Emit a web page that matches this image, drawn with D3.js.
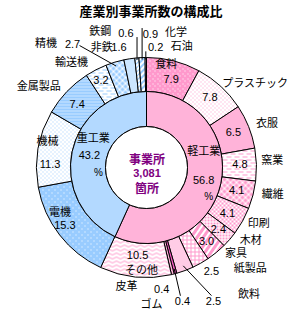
<!DOCTYPE html>
<html><head><meta charset="utf-8">
<script src="https://cdn.jsdelivr.net/npm/d3@7"></script>
<style>
body { margin: 0; background: #fff; }
text { font-family: "Noto Sans CJK JP", "Noto Sans", sans-serif; }
text.num { font-family: "Liberation Sans Narrow", "Liberation Sans", sans-serif; }
</style>
</head><body>
<svg id="chart" width="301" height="318"></svg>
<script>
// outer ring, clockwise from 12 o'clock (%)
var categories = ["食料","プラスチック","衣服","窯業","繊維","印刷","木材","家具","紙製品","飲料","ゴム","皮革","その他",
                  "電機","機械","金属製品","輸送機","精機","非鉄","鉄鋼","化学","石油"];
var shares = [7.9,7.8,6.5,4.8,4.1,4.1,2.4,3.0,2.5,2.5,0.4,0.4,10.5,
              15.3,11.3,7.4,3.2,2.7,1.6,0.6,0.9,0.2];
// inner ring
var groups = ["軽工業","重工業"];
var groupShares = [56.8, 43.2];
var centerLines = ["事業所","3,081","箇所"];
var title = "産業別事業所数の構成比";

var pink = "#ff99cc", blue = "#99ccff";

// label placement: [name radius, name angle nudge, value radius, value angle nudge] (deg)
var labelLayout = {
    "食料": [106, -3.4, 92, 1.3],
    "プラスチック": [137.5, 9.7, 95, -0.6],
    "衣服": [128.5, 1.6, 94, -0.6],
    "窯業": [126, -1.9, 93.5, -0.9],
    "繊維": [129, -2.6, 93, -0.5],
    "印刷": [125, -3.1, 93, 0.4],
    "木材": [127, -6.1, 94.5, -0.4],
    "家具": [124, -6.9, 95, 0.2],
    "紙製品": [144, -16.6, 122.5, -2.5],
    "飲料": [163, -18.5, 149, -6.2],
    "ゴム": [136.5, 13.2, 138, 0.2],
    "皮革": [120, 23.4, 122, 6.7],
    "その他": [102, -3, 87.5, 0.1],
    "電機": [97, 11, 100, 2.5],
    "機械": [102.5, 5, 96.5, -8.2],
    "金属製品": [135, -6.6, 94, -1.2],
    "輸送機": [129.5, -8.1, 98.5, -0.2],
    "精機": [160, -22.2, 143.5, -14.3],
    "非鉄": [128.3, -11.4, 123.5, -3.9],
    "鉄鋼": [144.6, -13.6, 136, -3.7],
    "化学": [138.5, 14.6, 133.5, 4.0],
    "石油": [126.5, 16.5, 120.5, 4.7]
};
// leader lines: "up" = vertical to label, "to" = towards value label
var leaders = { "精機": "to", "鉄鋼": "up", "化学": "up", "石油": "up", "飲料": "to", "ゴム": "to" };

var svg = d3.select("#chart");
var cx = 146.5, cy = 167.5;
var rHole = 41, rMid = 76, rOuter = 110;

// ---- fill patterns ----
var defs = svg.append("defs");
function pattern(id, w, h, bg, draw, rot) {
    var p = defs.append("pattern").attr("id", id)
        .attr("patternUnits", "userSpaceOnUse")
        .attr("width", w).attr("height", h);
    if (rot) p.attr("patternTransform", "rotate(" + rot + ")");
    p.append("rect").attr("width", w).attr("height", h).attr("fill", bg);
    draw(p);
}
function px(color, pts) {
    return function(p) {
        pts.forEach(function(d) {
            p.append("rect").attr("x", d[0]).attr("y", d[1])
                .attr("width", d[2] || 1).attr("height", d[3] || 1).attr("fill", color);
        });
    };
}
function diamonds(color) {
    return function(p) {
        p.append("path").attr("fill", color)
            .attr("d", "M3,0.7L5.3,3L3,5.3L0.7,3Z M0,-2.3L2.3,0L0,2.3L-2.3,0Z M6,-2.3L8.3,0L6,2.3L3.7,0Z M0,3.7L2.3,6L0,8.3L-2.3,6Z M6,3.7L8.3,6L6,8.3L3.7,6Z");
    };
}
function lines(color, d) {
    return function(p) {
        p.append("path").attr("d", d).attr("stroke", color).attr("stroke-width", 1).attr("fill", "none");
    };
}

var outerPatterns = [
    [5, 5, pink, px("#fff", [[1,1],[3,3]])],                        // 食料
    [4, 4, "#fff", px(pink, [[0,0],[2,2]])],                        // プラスチック
    [2, 2, pink, px("#fff", [[0,0]])],                              // 衣服
    [8, 6, "#fff", px(pink, [[0,1,5,1],[4,4,5,1],[-4,4,5,1]])],     // 窯業
    [6, 6, "#fff", diamonds(pink)],                                 // 繊維
    [4, 4, "#fff", lines(pink, "M-1,1L1,-1M0,4L4,0M3,5L5,3M-1,3L1,5M0,0L4,4M3,-1L5,1")], // 印刷
    [3, 3, pink, px("#fff", [[0,0,3,1],[0,0,1,3]])],                // 木材
    [5, 5, "#fff", px(pink, [[0,0,3,5]]), 35],                      // 家具
    [4, 4, "#fff", px(pink, [[0,0,4,1],[0,0,1,4]])],                // 紙製品
    [2, 2, "#fff", px(pink, [[0,0],[1,1]])],                        // 飲料
    [2, 2, "#ff66cc", px("#cc3399", [[0,0]])],                      // ゴム
    [2, 2, pink, px("#fff", [[0,0]])],                              // 皮革
    [8, 4, "#fff", lines(pink, "M0,2.5Q2,0.5 4,2.5T8,2.5")],        // その他
    [6, 6, blue, px("#fff", [[1,1],[4,4]])],                        // 電機
    [4, 4, "#fff", px(blue, [[0,0],[2,2]])],                        // 機械
    [2, 3, blue, px("#fff", [[0,0]])],                              // 金属製品
    [8, 6, "#fff", px(blue, [[0,1,5,1],[4,4,5,1],[-4,4,5,1]])],     // 輸送機
    [6, 6, "#fff", diamonds(blue)],                                 // 精機
    [2, 2, "#fff", px(blue, [[0,0],[1,1]])],                        // 非鉄
    [3, 3, "#fff", px(blue, [[0,0,1,3]]), 45],                      // 鉄鋼
    [4, 4, "#fff", px(blue, [[0,0,2,4]]), 45],                      // 化学
    [2, 2, "#fff", px(blue, [[0,0]])]                               // 石油
];
outerPatterns.forEach(function(p, i) { pattern("po" + i, p[0], p[1], p[2], p[3], p[4]); });
pattern("pi0", 2, 2, pink, px("#fff", [[0,0]]));
pattern("pi1", 2, 2, blue, px("#fff", [[0,0]]));

// ---- title ----
svg.append("text")
    .attr("x", 151).attr("y", 16)
    .attr("text-anchor", "middle")
    .style("font-size", "13px").style("font-weight", "bold")
    .text(title);

var g = svg.append("g").attr("transform", "translate(" + cx + "," + cy + ")");

var pie = d3.pie().sort(null).value(function(d) { return d.v; });
var outerData = pie(categories.map(function(c, i) { return { name: c, v: shares[i] }; }));
var innerData = pie(groups.map(function(c, i) { return { name: c, v: groupShares[i] }; }));

var outerArc = d3.arc().innerRadius(rMid).outerRadius(rOuter);
var innerArc = d3.arc().innerRadius(rHole).outerRadius(rMid);

g.selectAll(".outer").data(outerData).enter().append("path")
    .attr("class", "outer")
    .attr("d", outerArc)
    .attr("fill", function(d, i) { return "url(#po" + i + ")"; })
    .attr("stroke", "#000").attr("stroke-width", 1);

g.selectAll(".inner").data(innerData).enter().append("path")
    .attr("class", "inner")
    .attr("d", innerArc)
    .attr("fill", function(d, i) { return "url(#pi" + i + ")"; })
    .attr("stroke", "#000").attr("stroke-width", 1);

g.append("circle").attr("r", rHole).attr("fill", "#fff").attr("stroke", "#000");

// polar helper: angle in radians clockwise from 12 o'clock
function polar(r, a) { return [r * Math.sin(a), -r * Math.cos(a)]; }
function mid(d) { return (d.startAngle + d.endAngle) / 2; }
var deg = Math.PI / 180;

var fs = 11;

// leader lines
outerData.forEach(function(d) {
    var kind = leaders[d.data.name];
    if (!kind) return;
    var L = labelLayout[d.data.name];
    var v = polar(L[2], mid(d) + L[3] * deg);
    var p0, p1;
    if (kind === "up") {
        p0 = polar(rOuter - 2, mid(d));
        p1 = [p0[0], v[1] + 4];
        if (Math.abs(p1[0] - v[0]) < 9) p1 = [p0[0], v[1] - 6];
    } else if (d.data.name === "精機") {
        p0 = polar(rOuter - 4, mid(d));
        p1 = [v[0] + 7, v[1] + 1];
    } else {
        p0 = polar(rOuter - 5, mid(d));
        p1 = [v[0] - 2, v[1] - 5];
    }
    g.append("line")
        .attr("x1", p0[0]).attr("y1", p0[1])
        .attr("x2", p1[0]).attr("y2", p1[1])
        .attr("stroke", "#000").attr("stroke-width", 1);
});

// value and name labels for the outer ring
var labels = g.selectAll(".lab").data(outerData).enter().append("g").attr("class", "lab");
labels.append("text")
    .attr("class", "num")
    .attr("transform", function(d) {
        var L = labelLayout[d.data.name];
        return "translate(" + polar(L[2], mid(d) + L[3] * deg) + ")";
    })
    .attr("text-anchor", "middle").attr("dy", "0.36em")
    .style("font-size", "11px")
    .text(function(d) { return d3.format(".1f")(d.data.v); });
labels.append("text")
    .attr("transform", function(d) {
        var L = labelLayout[d.data.name];
        return "translate(" + polar(L[0], mid(d) + L[1] * deg) + ")";
    })
    .attr("text-anchor", "middle").attr("dy", "0.38em")
    .style("font-size", fs + "px")
    .text(function(d) { return d.data.name; });

// inner ring labels: [name dx, name dy, % dx, % dy] relative to centroid
var groupLayout = [[0, -29, 5, 16], [4, -17, 9, 17]];
innerData.forEach(function(d, i) {
    var c = innerArc.centroid(d), o = groupLayout[i];
    g.append("text").attr("class", "num").attr("x", c[0]).attr("y", c[1]).attr("dy", "0.36em")
        .attr("text-anchor", "middle").style("font-size", "11px")
        .text(d3.format(".1f")(d.data.v));
    g.append("text").attr("x", c[0] + o[0]).attr("y", c[1] + o[1]).attr("dy", "0.38em")
        .attr("text-anchor", "middle").style("font-size", fs + "px")
        .text(d.data.name);
    g.append("text").attr("class", "num").attr("x", c[0] + o[2]).attr("y", c[1] + o[3]).attr("dy", "0.36em")
        .attr("text-anchor", "middle").style("font-size", "10px")
        .text("%");
});

// centre text
var centerDy = [-8, 5.5, 20.5], centerSize = [12, 11, 12];
centerLines.forEach(function(t, i) {
    g.append("text").attr("class", i === 1 ? "num" : null)
        .attr("x", 0.5).attr("y", centerDy[i]).attr("dy", i === 1 ? "0.36em" : "0.38em")
        .attr("text-anchor", "middle")
        .style("font-size", centerSize[i] + "px").style("font-weight", "bold")
        .attr("fill", "#800080")
        .text(t);
});
</script>
</body></html>
